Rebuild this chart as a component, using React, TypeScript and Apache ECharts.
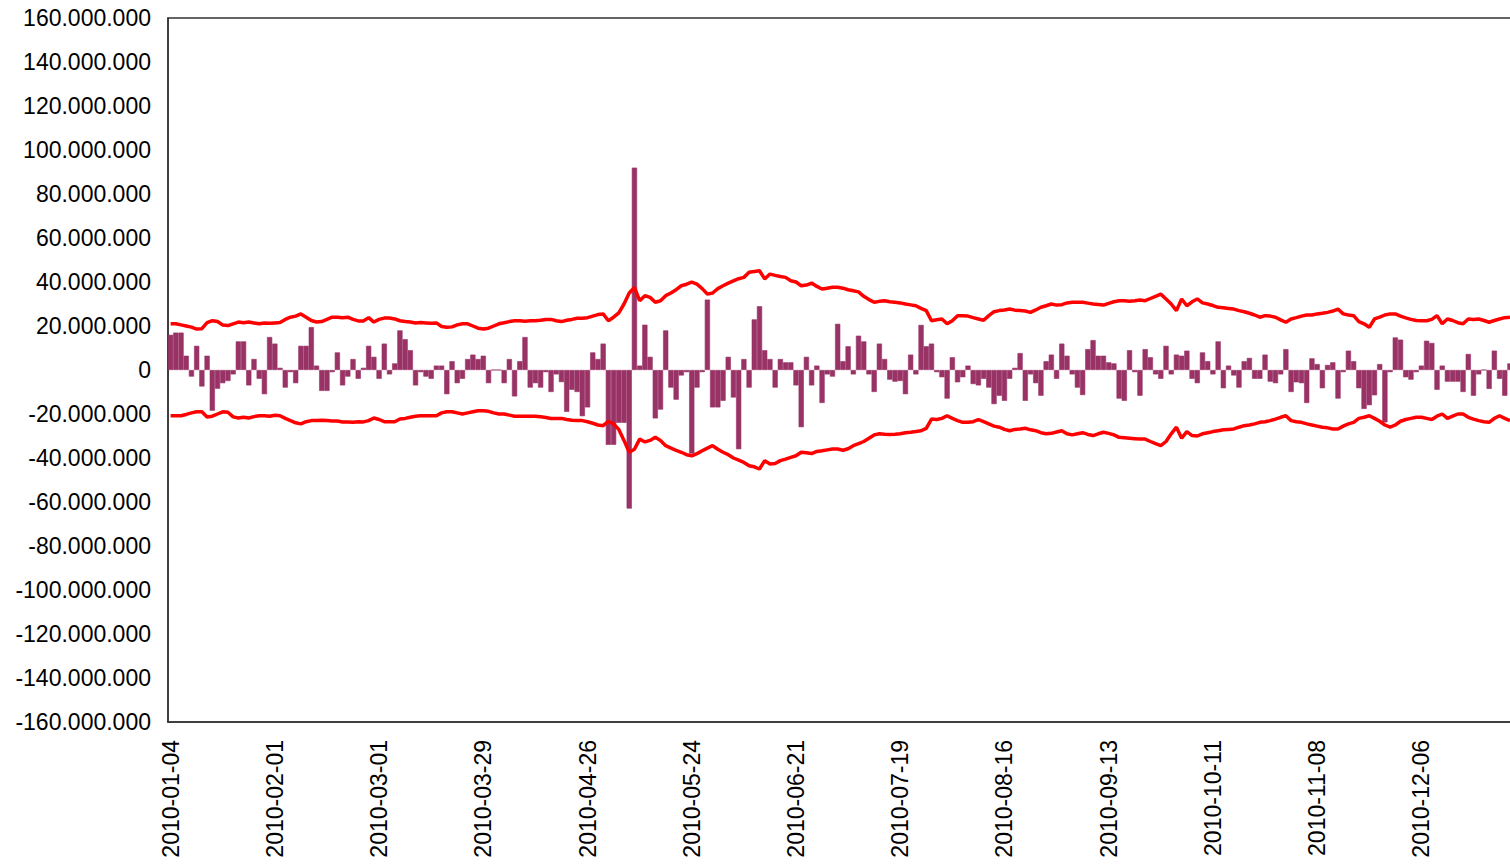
import React, { useEffect, useRef } from "react";
import * as echarts from "echarts";

// Business days of 2010 (first label 2010-01-04, last category 2010-12-31)
const startDate = "2010-01-04";
const endDate = "2010-12-31";

// Daily bar values, in millions
const barValues: number[] = [
  16, 17, 17, 6.5, -3, 11, -7.5, 6.5, -18.5, -8.5,
  -6, -5, -2, 13, 13, -7, 5, -4, -11, 15,
  12, 1, -8, -1, -6, 11, 11, 19.5, 2, -9.5,
  -9.5, -1, 8, -7, -3, 5, -4, 1, 11, 6,
  -4, 12, -2, 3, 18, 14, 9, -7, -1, -3,
  -4, 2, 2, -11, 4, -6, -4, 5, 7, 5,
  6.5, -6, 0, 0, -6, 5, -12, 4, 15, -8,
  -6, -8, -1, -10, -2, -5.5, -19, -9, -10, -21,
  -17, 8, 5, 12, -34, -34, -24, -24, -63, 92,
  2, 20.6, 6, -22, -18, 18, -8, -13.5, -2.5, -1,
  -38, -8, -1, 32, -17, -17, -14, 6, -12.5, -36,
  5, -8, 23, 29, 9, 5, -8, 5, 3.5, 3.5,
  -7, -26, 6, -7, 2, -15, -2, -3, 21, 4,
  10.8, -2, 15.6, 13, -2, -10, 12, 5, -4.4, -5.3,
  -5, -11, 7, -2, 20.5, 10.8, 12, -1, -3.3, -13,
  5.8, -5.6, -3.3, 2, -6.4, -7, -4, -8, -15.5, -11.7,
  -14, -4, 1, 7.7, -14, -2, -6, -11.7, 4, 7,
  -4, 12, 6.5, -2, -8, -11.4, 9.5, 13.6, 6.5, 6.5,
  3.5, 3, -13, -14, 9, -1, -11.7, 9.5, 5.8, -2,
  -4, 11, -2, 7, 6.5, 8.8, -4, -6, 8, 4,
  -2, 13, -8.3, 2, -2.5, -8, 4, 5.5, -4, -4,
  7, -5.3, -6, -2, 9.5, -10, -5.6, -6, -15, 5.3,
  2.7, -8.3, 2.3, 3.5, -13, -1, 8.8, 4, -8.3, -17.7,
  -16, -11.5, 2.7, -23.8, -1, 14.8, 13.8, -3.3, -4.4, -1,
  2, 13.3, 12.3, -9, 2, -5.3, -5.3, -5.3, -10, 7.3,
  -11.7, -2, 0, -8.6, 8.8, -4, -11.7, 3,
];

// Upper band, in millions
const upperBand: number[] = [
  21, 21, 20.5, 20, 19.5, 18.6, 18.8, 21.5, 22.4, 22,
  20.5, 20.2, 21, 21.8, 21.5, 21.8, 21.4, 21, 21.4, 21.2,
  21.4, 21.6, 23, 24, 24.5, 25.5, 24, 22.5, 21.8, 22,
  23, 24, 24, 23.8, 24, 23, 22.3, 22.3, 23.8, 21.8,
  23, 23.6, 23.6, 23.2, 22.4, 22, 21.8, 21.4, 21.6, 21.4,
  21.2, 21.4, 19.8, 19.4, 19.6, 20.5, 21, 21, 20, 19,
  18.6, 19, 20, 21, 21.5, 22, 22.4, 22.4, 22.2, 22.4,
  22.4, 22.6, 23, 23, 22.4, 22, 22.6, 23, 23.5, 23.5,
  23.8, 24.5, 25.2, 25.5, 22.4, 24, 26, 30, 35, 37.5,
  31.5, 33.8, 33, 30.8, 31.5, 33.8, 35, 36.5, 38.3, 39,
  39.9, 39, 37, 34.5, 35, 37, 38.3, 39.5, 40.5, 41.5,
  42.1, 44.4, 44.8, 45.1, 41.4, 43.6, 43, 42.5, 42.1, 40.6,
  40, 38.3, 38.6, 39.5, 38, 36.8, 37.2, 37.6, 37.6, 37.2,
  36.5, 36, 35.5, 33.5, 32, 30.8, 31.2, 31.5, 31, 30.8,
  30.5, 30, 29.6, 29.2, 28, 27, 22.4, 22.8, 23.2, 21,
  22.4, 24.7, 24.7, 24.5, 23.8, 23.2, 22.6, 24.7, 26.5, 27,
  27.3, 27.7, 27.2, 27, 26.8, 26.2, 27.3, 28.5, 29.2, 30,
  29.5, 29.7, 30.5, 30.8, 30.8, 30.8, 30.4, 30, 29.8, 29.5,
  30.3, 31, 31.5, 31.5, 31.3, 31.5, 31.8, 31.5, 32.5, 33.5,
  34.5, 32.3, 30, 27, 32.3, 29.2, 31, 32.3, 30.5, 30,
  29.3, 28.5, 28.3, 28, 27.7, 27, 26.5, 25.8, 25, 24,
  24.7, 24.5, 24, 22.8, 21.7, 23.2, 23.8, 24.5, 25, 25,
  25.5, 25.8, 26.2, 26.8, 27.7, 25.5, 25, 24.7, 22, 21,
  19.4, 23.2, 24, 25, 25.5, 25.5, 24.5, 23.7, 23, 22.5,
  22.4, 22.4, 23, 24.7, 21, 23.2, 22.5, 21.5, 21, 23.2,
  23, 23.2, 22.5, 21.7, 22.5, 23.2, 23.8, 24,
];

// Lower band, in millions
const lowerBand: number[] = [
  -20.8, -20.8, -20.8, -20.2, -19.5, -19, -19, -21.4, -21, -20,
  -19, -19.2, -21.3, -21.8, -21.5, -21.8, -21.2, -20.8, -20.8, -21,
  -20.6, -20.8, -22, -23, -24, -24.5, -23.5, -23, -23, -22.8,
  -23, -23.2, -23.2, -23.6, -23.6, -23.8, -23.5, -23.6, -23, -21.8,
  -22.5, -23.5, -23.5, -23.5, -22.3, -22, -21.5, -21, -20.8, -20.8,
  -20.8, -20.8, -19.5, -19, -19, -19.5, -20, -19.5, -19, -18.5,
  -18.5, -18.8, -19.5, -20, -20, -20.5, -21, -21, -21, -21,
  -21, -21.3, -21.6, -22, -22, -22, -22.5, -22.8, -23, -23,
  -23.5, -24.2, -25, -25.3, -23.3, -24.5, -27, -32, -37.4, -36,
  -31.4, -32.7, -32, -30.6, -32, -34.4, -35.5, -36.5, -37.4, -38.5,
  -39, -38, -36.7, -35.5, -34.4, -36, -37.4, -38.5, -40, -41,
  -42, -43.5, -44, -45, -41.2, -42.7, -42.5, -41.2, -40.5, -39.7,
  -39, -37.4, -37.6, -38, -37, -36.7, -36.3, -35.9, -35.9, -36.5,
  -35.8, -34.4, -33.5, -32.5, -31, -29.5, -29, -29.2, -29.3, -29.2,
  -29, -28.5, -28.3, -28, -27.6, -26.5, -22.3, -22.5, -22, -20.8,
  -22, -23, -23.8, -23.8, -23.5, -22.5, -23.5, -24.5, -25.5, -26,
  -27, -27.6, -27, -26.8, -26.5, -27.2, -27.6, -28.5, -29, -28.8,
  -28.2, -27.6, -29, -29.5, -29, -28.5, -29.3, -29.8, -29, -28.3,
  -28.8, -29.5, -30.6, -30.8, -31, -31.2, -31.4, -31.4, -32.5, -33.5,
  -34.4, -32.5, -29, -26, -31, -28, -29.8, -30, -29, -28.5,
  -28, -27.6, -27.2, -27, -26.8, -26, -25.3, -25, -24.5, -23.8,
  -23.5, -23, -22.3, -21.5, -20.8, -23, -23.5, -23.8, -24.5, -25,
  -25.5, -26, -26.3, -26.8, -26.8, -25.5, -24.5, -23.8, -22, -21.5,
  -20.8, -22, -23.3, -25, -26, -25, -23.3, -22.5, -22, -21.5,
  -21.5, -22, -22.5, -21, -20, -22, -21, -20, -20, -21.5,
  -22.3, -23, -23.5, -23.8, -22, -20.8, -22, -23,
];

const yMin = -160;
const yMax = 160;
const yStep = 20;
const labelEvery = 20;

function weekdays(start: string, end: string): string[] {
  const out: string[] = [];
  const d = new Date(start + "T00:00:00Z");
  const e = new Date(end + "T00:00:00Z");
  while (d.getTime() <= e.getTime()) {
    const w = d.getUTCDay();
    if (w !== 0 && w !== 6) out.push(d.toISOString().slice(0, 10));
    d.setUTCDate(d.getUTCDate() + 1);
  }
  return out;
}

const categories = weekdays(startDate, endDate);

function fmt(vMillions: number): string {
  const v = Math.round(vMillions * 1e6);
  return String(v).replace(/\B(?=(\d{3})+(?!\d))/g, ".");
}

export default function App() {
  const ref = useRef<HTMLDivElement>(null);

  useEffect(() => {
    if (!ref.current) return;
    const chart = echarts.init(ref.current, undefined, { renderer: "svg" });
    const font = "'Liberation Sans', Arial, sans-serif";
    chart.setOption({
      animation: false,
      backgroundColor: "#ffffff",
      grid: {
        left: 168,
        top: 18,
        width: 1355,
        bottom: 143,
        show: true,
        borderColor: "#333",
        borderWidth: 1.5,
        backgroundColor: "transparent",
      },
      xAxis: {
        type: "category",
        data: categories,
        boundaryGap: true,
        axisLine: { show: true, onZero: false, lineStyle: { color: "#333", width: 1.5 } },
        axisTick: { show: false },
        splitLine: { show: false },
        axisLabel: {
          interval: labelEvery - 1,
          rotate: 90,
          margin: 18,
          fontSize: 23,
          fontFamily: font,
          color: "#000",
        },
      },
      yAxis: {
        type: "value",
        min: yMin,
        max: yMax,
        interval: yStep,
        axisLine: { show: true, lineStyle: { color: "#333", width: 1.5 } },
        axisTick: { show: false },
        splitLine: { show: false },
        axisLabel: {
          formatter: (v: number) => fmt(v),
          fontSize: 23,
          margin: 17,
          fontFamily: font,
          color: "#000",
        },
      },
      series: [
        {
          type: "bar",
          data: barValues,
          barCategoryGap: "0%",
          itemStyle: { color: "#993366", borderColor: "#993366", borderWidth: 0.6 },
          z: 2,
        },
        {
          type: "line",
          data: upperBand,
          symbol: "none",
          lineStyle: { color: "#FF0000", width: 3.5 },
          z: 3,
        },
        {
          type: "line",
          data: lowerBand,
          symbol: "none",
          lineStyle: { color: "#FF0000", width: 3.5 },
          z: 3,
        },
      ],
    });
    return () => chart.dispose();
  }, []);

  return (
    <div
      style={{
        position: "fixed",
        left: 0,
        top: 0,
        width: 1510,
        height: 865,
        overflow: "hidden",
        background: "#fff",
      }}
    >
      <div ref={ref} style={{ width: 1540, height: 865 }} />
    </div>
  );
}
